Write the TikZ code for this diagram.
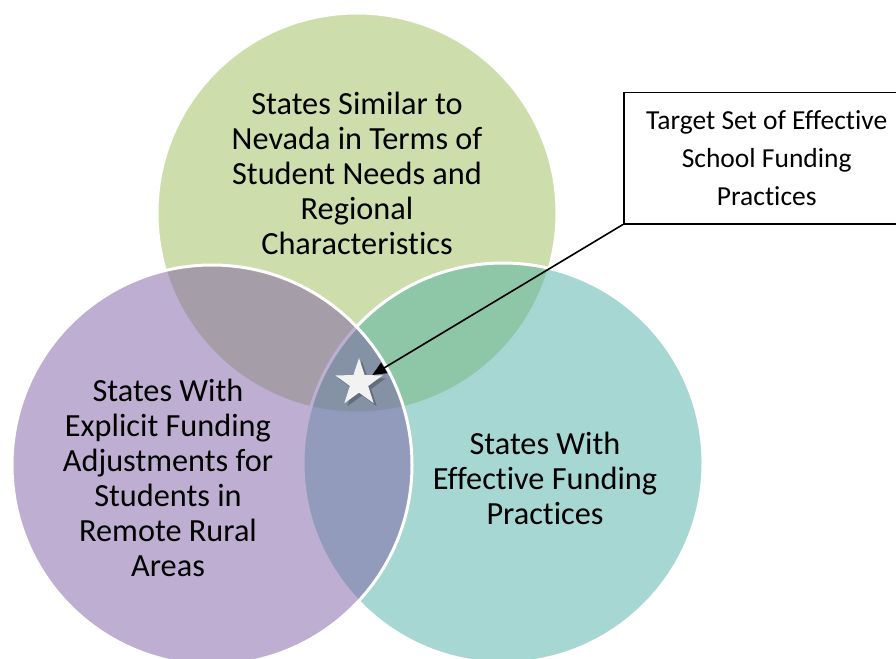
\documentclass[tikz,border=0pt]{standalone}
\usepackage{fontspec}
\setmainfont{Carlito}[Ligatures={NoCommon}]
\usepackage{tikz}
\usetikzlibrary{shapes.geometric,arrows.meta,positioning}
\definecolor{needsgreen}{RGB}{155,187,89}
\definecolor{ruralpurple}{RGB}{125,96,165}
\definecolor{effteal}{RGB}{80,175,165}

\begin{document}
\begin{tikzpicture}[x=1pt,y=-1pt,
    venn/.style={circle, minimum size=400pt, inner sep=0pt, draw=white, line width=3pt, fill opacity=0.5},
    venntext/.style={align=center, font=\fontsize{32.3}{35}\selectfont},
    starshape/.style={star, star points=5, star point ratio=2.6, minimum size=50pt, inner sep=0pt}]
\useasboundingbox (0,0) rectangle (896,658);
\clip (0,0) rectangle (896,658);
% the three sets
\node[venn, fill=needsgreen] (needs) at (357,213) {};
\node[venn, fill=effteal] (effective) at (503,463) {};
\node[venn, fill=ruralpurple] (rural) at (212,465) {};
\node[venntext] (needstext) at (357,173) {States Similar to\\Nevada in Terms of\\Student Needs and\\Regional\\Characteristics};
\node[venntext] (ruraltext) at (168,478) {States With\\Explicit Funding\\Adjustments for\\Students in\\Remote Rural\\Areas};
\node[venntext] (effectivetext) at (545,478) {States With\\Effective Funding\\Practices};
% target
\node[starshape, fill=black, opacity=0.25] (starshadow) at (362,386) {};
\node[starshape, fill=black!5] (target) at (359,383) {};
\node[draw, line width=1.5pt, anchor=north west, minimum width=286pt, minimum height=131pt,
      align=center, font=\fontsize{27.5}{38}\selectfont] (callout) at (623,92)
      {Target Set of Effective\\School Funding\\Practices};
\draw[line width=1.6pt, -{Triangle[length=14pt, width=12pt]}] (callout.south west) -- (target);
\end{tikzpicture}
\end{document}
